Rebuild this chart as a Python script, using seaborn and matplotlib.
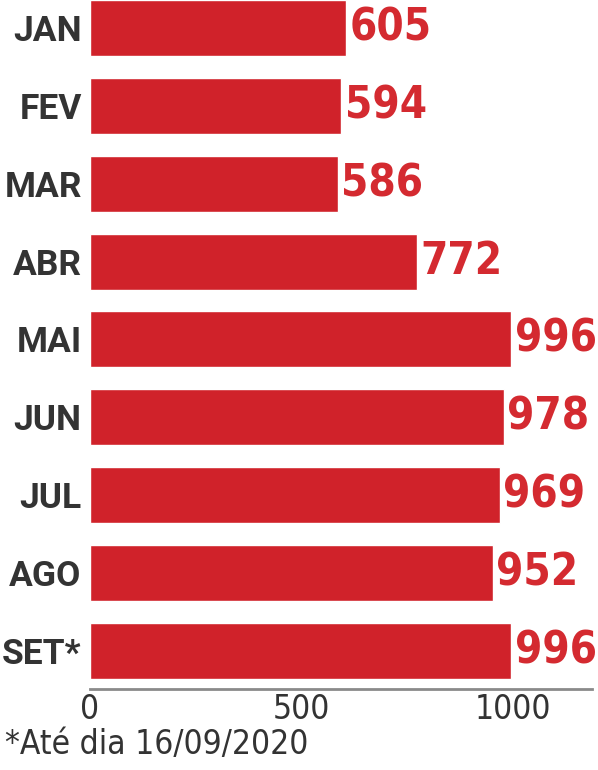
import matplotlib
matplotlib.use("Agg")
import matplotlib.pyplot as plt
import seaborn as sns
import pandas as pd

months = ["JAN", "FEV", "MAR", "ABR", "MAI", "JUN", "JUL", "AGO", "SET*"]
values = [605, 594, 586, 772, 996, 978, 969, 952, 996]
ticks = [0, 500, 1000]
tick_labels = ["0", "500", "1000"]
footnote = "*Até dia 16/09/2020"

sns.set_theme(style="white")
plt.rcParams["font.family"] = ["DejaVu Sans"]

BAR = "#d0222a"
TXT = "#d42a30"
DARK = "#333333"

df = pd.DataFrame({"mes": months, "valor": values})

fig = plt.figure(figsize=(5.98, 7.70), dpi=100)
ax = fig.add_axes([0.1505, 0.1052, 0.8395, 0.8948])
sns.barplot(data=df, y="mes", x="valor", orient="h", color=BAR, saturation=1,
            width=0.72, ax=ax)

ax.set_xlim(0, 1187)
ax.set_ylim(8.49, -0.36)

for bar, v in zip(ax.patches, values):
    ax.annotate(str(v), xy=(bar.get_width(), bar.get_y() + bar.get_height() / 2),
                xytext=(2.5, 0), textcoords="offset points", ha="left", va="center",
                fontsize=31.5, fontweight="bold", color=TXT, fontstretch="condensed")

ax.set_xlabel("")
ax.set_ylabel("")
ax.set_xticks(ticks)
ax.set_xticklabels(tick_labels, fontsize=24, color=DARK, fontstretch="condensed")
ax.tick_params(axis="x", length=0, pad=3)
ax.tick_params(axis="y", length=0, pad=6)
for lab in ax.get_yticklabels():
    lab.set_family(["Roboto", "DejaVu Sans"])
    lab.set_fontsize(25.5)
    lab.set_fontweight("bold")
    lab.set_color(DARK)

for s in ["top", "right", "left"]:
    ax.spines[s].set_visible(False)
ax.spines["bottom"].set_color("#8a8a8a")
ax.spines["bottom"].set_linewidth(2)

fig.text(0.008, 0.012, footnote, fontsize=24, color=DARK, ha="left", va="bottom",
         fontstretch="condensed")

fig.savefig("out.png", dpi=100)
